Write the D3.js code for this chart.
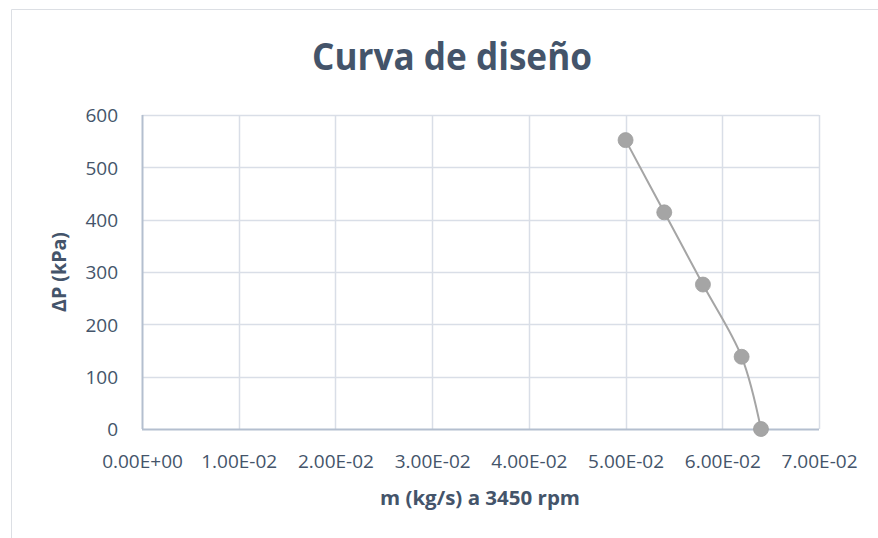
<!DOCTYPE html>
<html>
<head>
<meta charset="utf-8">
<script src="https://cdn.jsdelivr.net/npm/d3@7"></script>
<style>
  html, body { margin: 0; padding: 0; background: #fff; }
  svg { display: block; font-family: "Open Sans", "Noto Sans", sans-serif; }
</style>
</head>
<body>
<svg id="chart" width="878" height="538"></svg>
<script>
// Mass flow (kg/s) and pressure rise (kPa) at 3450 rpm
const massFlow = [0.050, 0.054, 0.058, 0.062, 0.064];
const deltaP   = [552, 414, 276, 138, 0];

const xTicks = [0, 0.01, 0.02, 0.03, 0.04, 0.05, 0.06, 0.07];
const yTicks = [0, 100, 200, 300, 400, 500, 600];

const titleText = "Curva de diseño";
const xTitle = "m (kg/s) a 3450 rpm";
const yTitle = "ΔP (kPa)";

const textColor = "#44546A";
const gridColor = "#D9DEE7";
const axisColor = "#B4BFCF";
const seriesColor = "#A5A5A5";

const svg = d3.select("#chart");

// outer chart frame (top and left edges visible)
svg.append("path")
  .attr("d", "M11.5,538 L11.5,9.5 L878,9.5")
  .attr("fill", "none")
  .attr("stroke", "#DCDFE4")
  .attr("stroke-width", 1);

const plot = { left: 142, right: 819, top: 115, bottom: 429 };

const x = d3.scaleLinear().domain([0, 0.07]).range([plot.left, plot.right]);
const y = d3.scaleLinear().domain([0, 600]).range([plot.bottom, plot.top]);

// gridlines
const grid = svg.append("g");
grid.selectAll("line.h").data(yTicks.filter(d => d > 0)).join("line")
  .attr("x1", plot.left).attr("x2", plot.right)
  .attr("y1", d => Math.round(y(d)) + 0.5).attr("y2", d => Math.round(y(d)) + 0.5)
  .attr("stroke", gridColor).attr("stroke-width", 1.5);
grid.selectAll("line.v").data(xTicks.filter(d => d > 0)).join("line")
  .attr("x1", d => Math.round(x(d)) + 0.5).attr("x2", d => Math.round(x(d)) + 0.5)
  .attr("y1", plot.top).attr("y2", plot.bottom)
  .attr("stroke", gridColor).attr("stroke-width", 1.5);

// axes
const xAxis = d3.axisBottom(x).tickValues(xTicks).tickSize(0).tickPadding(0)
  .tickFormat(d => {
    const s = d3.format(".2e")(d);           // e.g. 1.00e-2
    const m = s.match(/^(-?[\d.]+)e([+-])(\d+)$/);
    const exp = m[3].padStart(2, "0");
    return m[1] + "E" + m[2] + exp;
  });
const gx = svg.append("g").attr("transform", `translate(0,${plot.bottom})`).call(xAxis);
gx.select(".domain").attr("stroke", axisColor).attr("stroke-width", 2)
  .attr("d", `M${plot.left},0.5H${plot.right}`);
gx.selectAll("text")
  .attr("y", 0).attr("dy", 0)
  .attr("transform", "translate(0,39)")
  .attr("fill", textColor)
  .style("font-size", "19px")
  .attr("font-family", "Open Sans");

const yAxis = d3.axisLeft(y).tickValues(yTicks).tickSize(0).tickPadding(0).tickFormat(d3.format("d"));
const gy = svg.append("g").attr("transform", `translate(${plot.left},0)`).call(yAxis);
gy.select(".domain").attr("stroke", axisColor).attr("stroke-width", 2)
  .attr("d", `M0.5,${plot.bottom}V${plot.top}`);
gy.selectAll("text")
  .attr("x", -24).attr("dy", "0.36em")
  .attr("fill", textColor)
  .style("font-size", "19px")
  .attr("font-family", "Open Sans");

// title
svg.append("text")
  .attr("x", 452).attr("y", 70)
  .attr("text-anchor", "middle")
  .attr("fill", textColor)
  .style("font-size", "38px").style("font-weight", "bold")
  .attr("textLength", 280).attr("lengthAdjust", "spacingAndGlyphs")
  .text(titleText);

// axis titles
svg.append("text")
  .attr("x", 480).attr("y", 505)
  .attr("text-anchor", "middle")
  .attr("fill", textColor)
  .style("font-size", "19px").style("font-weight", "bold")
  .attr("textLength", 200).attr("lengthAdjust", "spacingAndGlyphs")
  .text(xTitle);

svg.append("text")
  .attr("transform", `translate(66,272) rotate(-90)`)
  .attr("text-anchor", "middle")
  .attr("fill", textColor)
  .style("font-size", "19px").style("font-weight", "bold")
  .attr("textLength", 80).attr("lengthAdjust", "spacingAndGlyphs")
  .text(yTitle);

// series
const pts = massFlow.map((m, i) => [m, deltaP[i]]);
const line = d3.line().x(d => x(d[0])).y(d => y(d[1])).curve(d3.curveCatmullRom.alpha(0.5));

svg.append("path")
  .datum(pts)
  .attr("d", line)
  .attr("fill", "none")
  .attr("stroke", seriesColor)
  .attr("stroke-width", 2);

svg.append("g").selectAll("circle").data(pts).join("circle")
  .attr("cx", d => x(d[0])).attr("cy", d => y(d[1]))
  .attr("r", 7.5)
  .attr("fill", seriesColor)
  .attr("stroke", "#9E9E9E")
  .attr("stroke-width", 0.8);
</script>
</body>
</html>
